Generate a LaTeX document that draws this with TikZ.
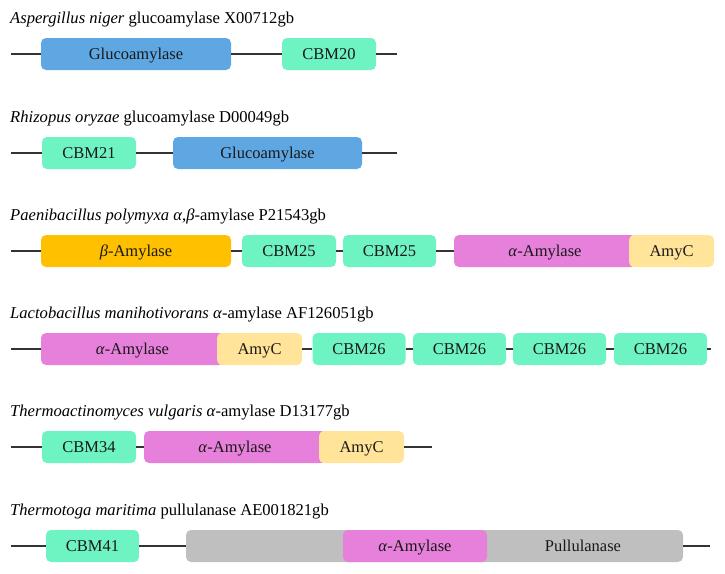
\documentclass[tikz,border=0pt]{standalone}
\usepackage{fontspec}
\setmainfont{Liberation Serif}

\definecolor{glucoblue}{RGB}{94,167,226}
\definecolor{cbmgreen}{RGB}{110,243,195}
\definecolor{betaorange}{RGB}{255,192,0}
\definecolor{alphapink}{RGB}{230,128,219}
\definecolor{amycyellow}{RGB}{255,228,153}
\definecolor{pullgray}{RGB}{191,191,191}

\begin{document}
\begin{tikzpicture}[x=1pt,y=-1pt,
  dombox/.style={rounded corners=5pt,minimum height=32pt,inner sep=0pt,
    text height=15pt,text depth=4pt,
    font=\fontsize{16.5}{19}\selectfont,text=black!90},
  backbone/.style={black!80,line width=1.2pt},
  titletxt/.style={anchor=base west,inner sep=0pt,font=\fontsize{16.6}{19}\selectfont}]

\useasboundingbox (0,0) rectangle (725,573);

%Aspergillus niger
\node[titletxt] (t1) at (10,23) {\textit{Aspergillus niger} glucoamylase X00712gb};
\coordinate (r1s) at (11,54);
\coordinate (r1e) at (397,54);
\node[dombox,fill=glucoblue,minimum width=190pt] (glu1) at (136,54) {Glucoamylase};
\node[dombox,fill=cbmgreen,minimum width=94pt] (cbm20) at (329,54) {CBM20};
\draw[backbone] (r1s) -- (glu1) -- (cbm20) -- (r1e);

%Rhizopus oryzae
\node[titletxt] (t2) at (10,122) {\textit{Rhizopus oryzae} glucoamylase D00049gb};
\coordinate (r2s) at (11,153);
\coordinate (r2e) at (397,153);
\node[dombox,fill=cbmgreen,minimum width=94pt] (cbm21) at (89,153) {CBM21};
\node[dombox,fill=glucoblue,minimum width=189pt] (glu2) at (267.5,153) {Glucoamylase};
\draw[backbone] (r2s) -- (cbm21) -- (glu2) -- (r2e);

%Paenibacillus polymyxa
\node[titletxt] (t3) at (10,220) {\textit{Paenibacillus polymyxa} \textit{α},\textit{β}-amylase P21543gb};
\coordinate (r3s) at (11,251);
\node[dombox,fill=betaorange,minimum width=190pt] (beta3) at (136,251) {\textit{β}-Amylase};
\node[dombox,fill=cbmgreen,minimum width=94pt] (cbm25a) at (289,251) {CBM25};
\node[dombox,fill=cbmgreen,minimum width=93pt] (cbm25b) at (389.5,251) {CBM25};
\node[dombox,fill=alphapink,minimum width=182pt] (alpha3) at (545,251) {\textit{α}-Amylase};
\node[dombox,fill=amycyellow,minimum width=85pt] (amyc3) at (671.5,251) {AmyC};
\draw[backbone] (r3s) -- (beta3) -- (cbm25a) -- (cbm25b) -- (alpha3);

%Lactobacillus manihotivorans
\node[titletxt] (t4) at (10,318) {\textit{Lactobacillus manihotivorans} \textit{α}-amylase AF126051gb};
\coordinate (r4s) at (11,349);
\coordinate (r4e) at (711,349);
\node[dombox,fill=alphapink,minimum width=183pt] (alpha4) at (132.5,349) {\textit{α}-Amylase};
\node[dombox,fill=amycyellow,minimum width=85pt] (amyc4) at (259.5,349) {AmyC};
\foreach \i/\x in {1/359,2/459.5,3/559.5,4/660.5}
  \node[dombox,fill=cbmgreen,minimum width=93pt] (cbm26-\i) at (\x,349) {CBM26};
\draw[backbone] (r4s) -- (alpha4);
\draw[backbone] (amyc4) -- (cbm26-1) -- (cbm26-2) -- (cbm26-3) -- (cbm26-4) -- (r4e);

%Thermoactinomyces vulgaris
\node[titletxt] (t5) at (10,416) {\textit{Thermoactinomyces vulgaris} \textit{α}-amylase D13177gb};
\coordinate (r5s) at (11,447);
\coordinate (r5e) at (432,447);
\node[dombox,fill=cbmgreen,minimum width=94pt] (cbm34) at (89,447) {CBM34};
\node[dombox,fill=alphapink,minimum width=182pt] (alpha5) at (235,447) {\textit{α}-Amylase};
\node[dombox,fill=amycyellow,minimum width=85pt] (amyc5) at (361.5,447) {AmyC};
\draw[backbone] (r5s) -- (cbm34) -- (alpha5);
\draw[backbone] (amyc5) -- (r5e);

%Thermotoga maritima
\node[titletxt] (t6) at (10,515) {\textit{Thermotoga maritima} pullulanase AE001821gb};
\coordinate (r6s) at (11,546);
\coordinate (r6e) at (710,546);
\node[dombox,fill=cbmgreen,minimum width=93pt] (cbm41) at (92.5,546) {CBM41};
\node[dombox,fill=pullgray,minimum width=497pt] (pull) at (434.5,546) {};
\node[dombox,fill=alphapink,minimum width=144pt] (alpha6) at (415,546) {\textit{α}-Amylase};
\node[dombox] (pulltxt) at (583,546) {Pullulanase};
\draw[backbone] (r6s) -- (cbm41) -- (pull) -- (r6e);

\end{tikzpicture}
\end{document}
